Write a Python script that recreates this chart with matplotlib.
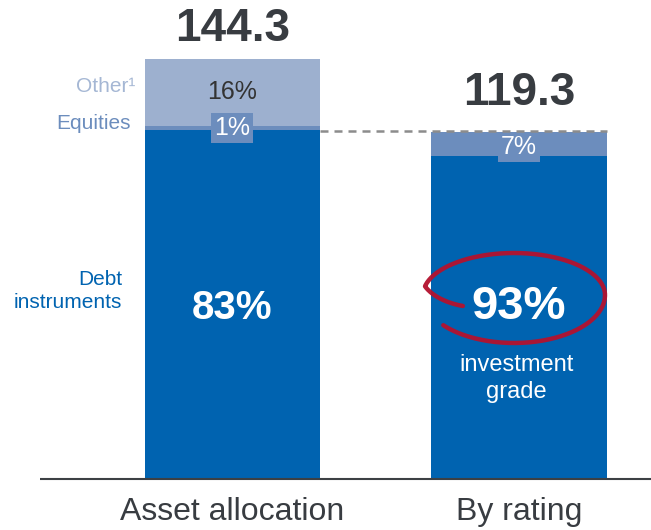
import numpy as np
import matplotlib
matplotlib.use("Agg")
import matplotlib.pyplot as plt

plt.rcParams['font.family'] = ['Liberation Sans', 'DejaVu Sans']

# ---- data ----
categories = ["Asset allocation", "By rating"]
totals = [144.3, 119.3]
alloc_labels = ["Debt\ninstruments", "Equities", "Other\u00b9"]
alloc_shares = [83, 1, 16]          # % of 144.3
rating_shares = [93, 7]             # % of 119.3 (investment grade, other)
total_labels = ["144.3", "119.3"]

# ---- styling ----
C_DEBT = "#0063B0"
C_EQ = "#6C8DBD"
C_OTHER = "#9DB0CF"
C_TXT = "#383C41"
C_RED = "#B3122E"

W, H, DPI = 651, 530, 100
fig = plt.figure(figsize=(W / DPI, H / DPI), dpi=DPI)
ax = fig.add_axes([0, 0, 1, 1])
ax.set_xlim(-0.8115, 1.4607)
ax.set_ylim(-17.52, 164.57)
ax.axis("off")

x = np.arange(len(categories))
bw = 0.6126

# bar 1 segments
t1 = totals[0]
seg1 = [s / 100 * t1 for s in alloc_shares]
cols1 = [C_DEBT, C_EQ, C_OTHER]
bottom = 0
for v, c in zip(seg1, cols1):
    ax.bar(x[0], v, bw, bottom=bottom, color=c, linewidth=0, zorder=2)
    bottom += v

# bar 2 segments
t2 = totals[1]
seg2 = [s / 100 * t2 for s in rating_shares]
cols2 = [C_DEBT, C_EQ]
bottom = 0
for v, c in zip(seg2, cols2):
    ax.bar(x[1], v, bw, bottom=bottom, color=c, linewidth=0, zorder=2)
    bottom += v

# baseline
ax.hlines(0, -0.672, 1.4607, color="#3C4044", lw=1.5, zorder=3)

# dashed reference line
ax.plot([x[0] + bw / 2, x[1] + bw / 2], [t2 + 0.2, t2 + 0.2], color="#8C8C8C",
        lw=1.8, dashes=(3.2, 2.4), zorder=5)

# totals
ax.text(x[0], t1 + 2.7, total_labels[0], ha="center", va="bottom",
        fontsize=33, fontweight="bold", color=C_TXT)
ax.text(x[1], t2 + 5.6, total_labels[1], ha="center", va="bottom",
        fontsize=33, fontweight="bold", color=C_TXT)

# bar 1 inner labels
ax.text(x[0], seg1[0] / 2 - 1.3, f"{alloc_shares[0]}%", ha="center", va="center",
        fontsize=29, fontweight="bold", color="white", zorder=6)
ax.text(x[0], seg1[0] + seg1[1] + seg1[2] / 2 + 0.3, f"{alloc_shares[2]}%",
        ha="center", va="center", fontsize=18, color="#333333", zorder=6)
ax.text(x[0], seg1[0] + seg1[1] / 2 + 0.2, f"{alloc_shares[1]}%", ha="center",
        va="center", fontsize=18, color="white", zorder=6,
        bbox=dict(boxstyle="square,pad=0.12", fc=C_EQ, ec="none"))

# bar 2 inner labels
ax.text(x[1], 59, f"{rating_shares[0]}%", ha="center", va="center",
        fontsize=34, fontweight="bold", color="white", zorder=6)
ax.text(x[1] - 0.01, 34.5, "investment\ngrade", ha="center", va="center",
        fontsize=17, color="white", linespacing=1.3, zorder=6)
ax.text(x[1], 113.9, f"{rating_shares[1]}%", ha="center",
        va="center", fontsize=18, color="white", zorder=4,
        bbox=dict(boxstyle="square,pad=0.12", fc=C_EQ, ec="none"))

# side labels
ax.text(-0.340, 134.7, alloc_labels[2], ha="right", va="center",
        fontsize=15, color="#A5B7D4")
ax.text(-0.354, 122.3, alloc_labels[1], ha="right", va="center",
        fontsize=15, color=C_EQ)
ax.text(-0.385, 64.6, alloc_labels[0], ha="right", va="center",
        fontsize=15, color=C_DEBT, multialignment="right", linespacing=1.3)

# category labels
for xi, lab in zip(x, categories):
    ax.text(xi, -11.2, lab, ha="center", va="center", fontsize=23, color=C_TXT)

# hand-drawn red ellipse annotation (pixel coords, y from top)
cx, cy, rx, ry = 514, 295, 91, 42
t = np.deg2rad(np.linspace(141, -205, 320))
k = np.ones_like(t)
tail = t < np.deg2rad(-168)
k[tail] = 1 - 0.38 * (np.deg2rad(-168) - t[tail]) / np.deg2rad(37)
px = cx + rx * k * np.cos(t)
py = cy + ry * k * np.sin(t) + 6 * np.clip(np.sin(t), 0, None) * (t > 0)
fig.lines.append(plt.Line2D(px / W, 1 - py / H, transform=fig.transFigure,
                            color=C_RED, lw=3.2, solid_capstyle="round",
                            solid_joinstyle="round", alpha=0.95, zorder=10))

fig.savefig("out.png", dpi=DPI)
